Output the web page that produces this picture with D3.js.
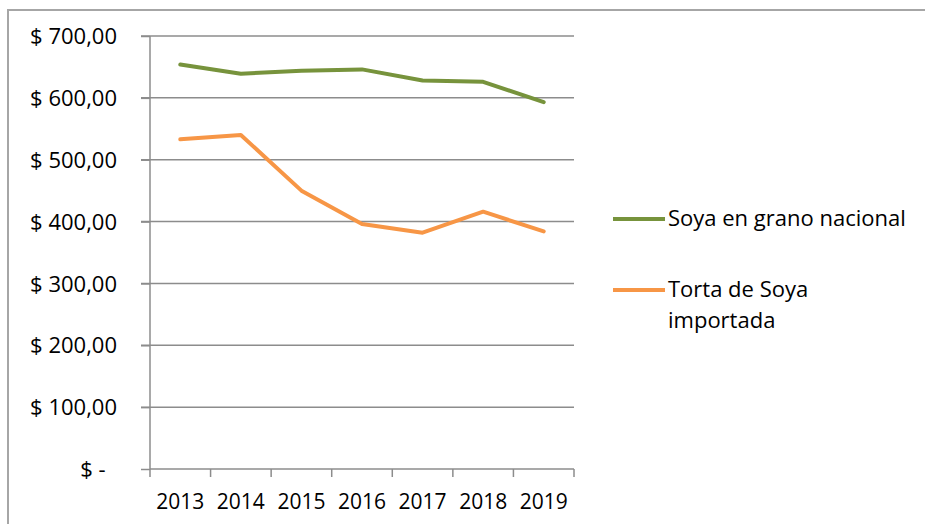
<!DOCTYPE html>
<html>
<head>
<meta charset="utf-8">
<script src="https://d3js.org/d3.v7.min.js"></script>
<style>
body { margin: 0; background: #fff; }
svg { display: block; font-family: "Open Sans", sans-serif; }
.grid line { stroke: #8c8c8c; stroke-width: 1.5; }
.axis { font-family: "Open Sans", sans-serif; }
.axis path, .axis line { stroke: #8c8c8c; stroke-width: 1.5; }
.axis text { fill: #000; font-size: 21px; }
.y.axis text { font-size: 22px; }
.legend text { font-size: 22px; fill: #000; }
</style>
</head>
<body>
<svg width="925" height="524"></svg>
<script>

var years = ["2013", "2014", "2015", "2016", "2017", "2018", "2019"];
var soyaGrano = [654, 639, 644, 646, 628, 626, 593];
var tortaSoya = [533, 540, 450, 396, 382, 416, 384];
var yTicks = [0, 100, 200, 300, 400, 500, 600, 700];
var seriesNames = ["Soya en grano nacional", "Torta de Soya|importada"];
var seriesColors = ["#77933c", "#f79646"];

var svg = d3.select("svg");

// chart frame (only top and left edges show in the capture)
svg.append("path")
    .attr("d", "M8,525V10H926")
    .attr("fill", "none")
    .attr("stroke", "#a6a6a6")
    .attr("stroke-width", 2);

var plotL = 150, plotR = 574, plotT = 36, plotB = 469;

var x = d3.scaleBand().domain(years).range([plotL, plotR]);
var y = d3.scaleLinear().domain([0, 700]).range([plotB, plotT]);

function money(v) {
  return v === 0 ? "$ -  " : "$ " + d3.format(",.2f")(v).replace(/,/g, " ").replace(".", ",");
}

svg.append("g")
    .attr("class", "grid")
  .selectAll("line")
  .data(yTicks.filter(function(d) { return d > 0; }))
  .enter().append("line")
    .attr("x1", plotL - 9)
    .attr("x2", plotR)
    .attr("y1", function(d) { return y(d); })
    .attr("y2", function(d) { return y(d); });

var yAxis = svg.append("g")
    .attr("class", "y axis")
    .attr("transform", "translate(" + plotL + ",0)")
    .call(d3.axisLeft(y).tickValues(yTicks).tickSize(9).tickPadding(24).tickFormat(money));
yAxis.select(".domain").attr("d", "M0," + plotT + "V" + plotB);
yAxis.selectAll(".tick text").attr("dy", "0.35em").style("white-space", "pre");

var xAxis = svg.append("g")
    .attr("class", "x axis")
    .attr("transform", "translate(0," + plotB + ")")
    .call(d3.axisBottom(x).tickSize(0).tickPadding(25));
xAxis.select(".domain").attr("d", "M" + plotL + ",0H" + plotR);
xAxis.selectAll(".sep")
    .data(years.concat(["end"]))
  .enter().append("line")
    .attr("class", "sep")
    .attr("x1", function(d, i) { return plotL + i * x.bandwidth(); })
    .attr("x2", function(d, i) { return plotL + i * x.bandwidth(); })
    .attr("y1", 0)
    .attr("y2", 8);

var line = d3.line()
    .x(function(d, i) { return x(years[i]) + x.bandwidth() / 2; })
    .y(function(d) { return y(d); });

[soyaGrano, tortaSoya].forEach(function(s, i) {
  svg.append("path")
      .datum(s)
      .attr("fill", "none")
      .attr("stroke", seriesColors[i])
      .attr("stroke-width", 4)
      .attr("stroke-linejoin", "round")
      .attr("stroke-linecap", "round")
      .attr("d", line);
});

var legend = svg.append("g").attr("class", "legend");
var legY = [219, 290];
seriesNames.forEach(function(name, i) {
  legend.append("line")
      .attr("x1", 613).attr("x2", 665)
      .attr("y1", legY[i]).attr("y2", legY[i])
      .attr("stroke", seriesColors[i])
      .attr("stroke-width", 4);
  var t = legend.append("text")
      .attr("x", 668)
      .attr("y", legY[i] + 7);
  name.split("|").forEach(function(part, j) {
    t.append("tspan")
        .attr("x", 668)
        .attr("dy", j === 0 ? 0 : 31)
        .text(part);
  });
});

</script>
</body>
</html>
